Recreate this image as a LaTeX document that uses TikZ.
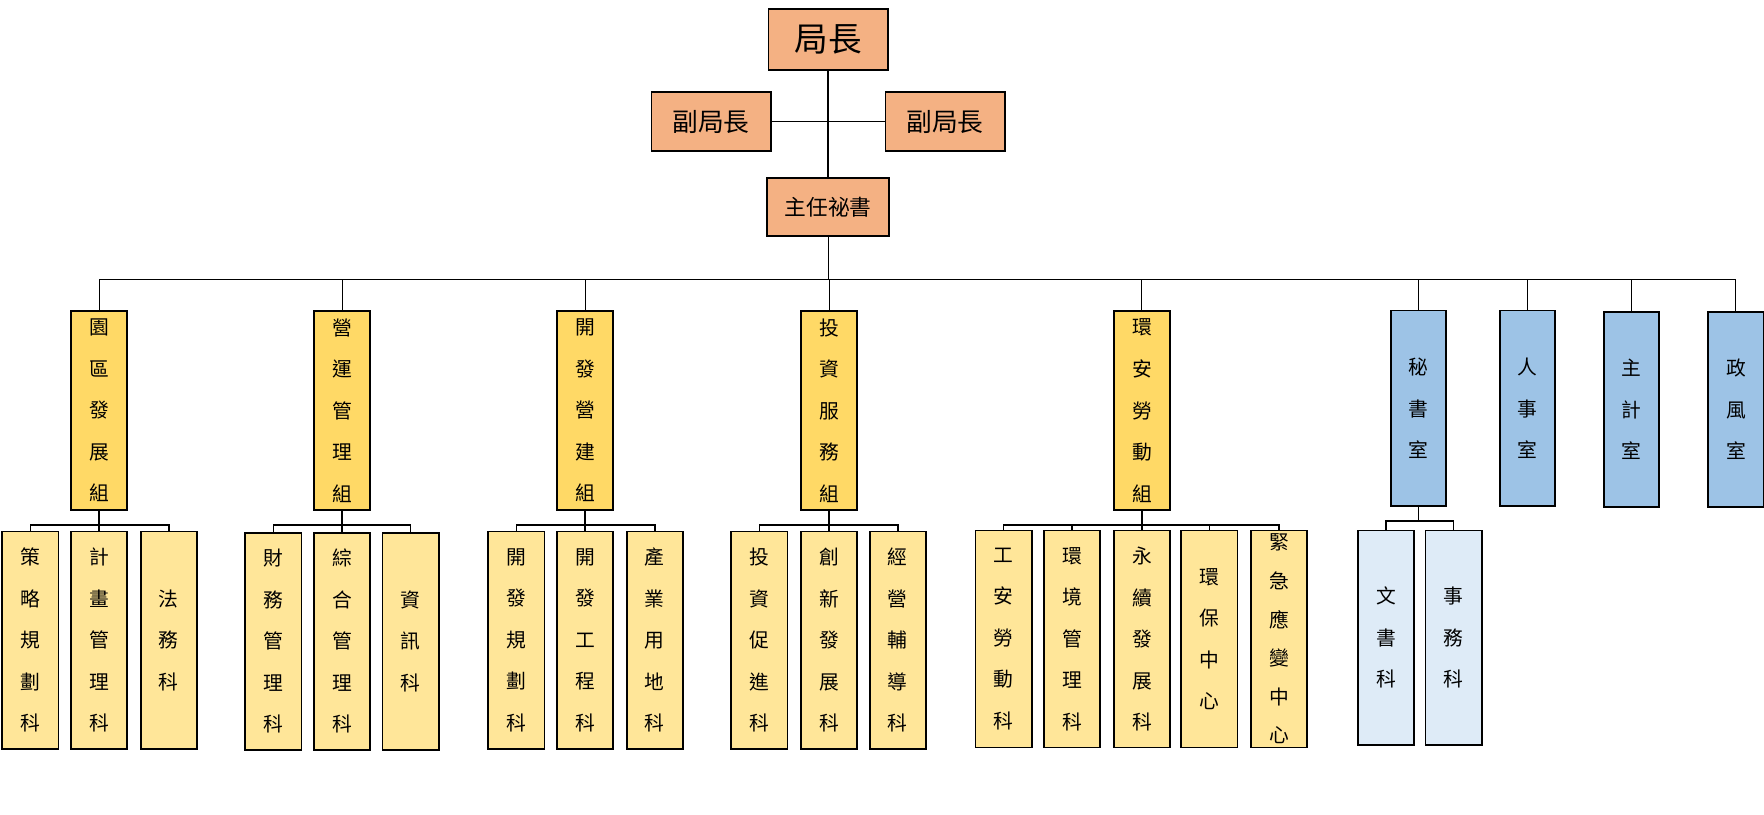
\documentclass[tikz,border=0pt]{standalone}
\usepackage{fontspec}
\newfontfamily\cjk{Noto Sans CJK TC}
\definecolor{head}{HTML}{F4B183}
\definecolor{grp}{HTML}{FFD966}
\definecolor{sub}{HTML}{FFE699}
\definecolor{off}{HTML}{9DC3E6}
\definecolor{offsub}{HTML}{DEEBF7}
\begin{document}
\begin{tikzpicture}
[x=0.02cm,y=-0.02cm,
 every node/.style={draw=black,line width=0.9pt,inner sep=0mm,outer sep=0mm,align=center},
 boss/.style={fill=head,minimum width=2.12cm,minimum height=1.08cm,font=\cjk\fontsize{17}{20}\selectfont},
 depty/.style={fill=head,minimum width=2.12cm,minimum height=1.06cm,font=\cjk\fontsize{13}{16}\selectfont},
 chief/.style={fill=head,minimum width=2.18cm,minimum height=1.04cm,font=\cjk\fontsize{11}{14}\selectfont},
 grpbox/.style={fill=grp,minimum width=1cm,minimum height=3.54cm,font=\cjk\fontsize{10}{21}\selectfont},
 offbox/.style={fill=off,minimum width=0.98cm,minimum height=3.48cm,font=\cjk\fontsize{10}{21}\selectfont},
 subbox/.style={fill=sub,minimum width=1cm,minimum height=3.86cm,font=\cjk\fontsize{10}{21}\selectfont},
 offsubbox/.style={fill=offsub,minimum width=1cm,minimum height=3.82cm,font=\cjk\fontsize{10}{21}\selectfont},
 link/.style={line width=0.5pt},
 tick/.style={line width=0.8pt}]
\useasboundingbox (0,0) rectangle (1568,724);
% top
\node[boss]  (bos) at (736,35)  {局長};
\node[depty] (dl)  at (632,108) {副局長};
\node[depty] (dr)  at (840,108) {副局長};
\node[chief] (sec) at (736,184) {主任祕書};
\draw[tick] (bos) -- (sec);
\draw[tick] (dl) -- (dr);
% groups
\node[grpbox] (g1) at (88,365)   {園\\區\\發\\展\\組};
\node[grpbox] (g2) at (304,365)  {營\\運\\管\\理\\組};
\node[grpbox] (g3) at (520,365)  {開\\發\\營\\建\\組};
\node[grpbox] (g4) at (737,365)  {投\\資\\服\\務\\組};
\node[grpbox] (g5) at (1015,365) {環\\安\\勞\\動\\組};
\node[offbox] (o1) at (1261,363) {秘\\書\\室};
\node[offbox] (o2) at (1358,363) {人\\事\\室};
\node[offbox] (o3) at (1450,364) {主\\計\\室};
\node[offbox] (o4) at (1543,364) {政\\風\\室};
\coordinate (bus) at (736,248);
\draw[link] (sec) -- (bus);
\draw[link] (g1.north |- bus) -- (o4.north |- bus);
\foreach \g in {g1,g2,g3,g4,g5,o1,o2,o3,o4}
  \draw[link] (\g.north) -- (\g.north |- bus);
% sections
\node[subbox] (s11) at (27,569)  {策\\略\\規\\劃\\科};
\node[subbox] (s12) at (88,569)  {計\\畫\\管\\理\\科};
\node[subbox] (s13) at (150,569) {法\\務\\科};
\node[subbox] (s21) at (243,570) {財\\務\\管\\理\\科};
\node[subbox] (s22) at (304,570) {綜\\合\\管\\理\\科};
\node[subbox] (s23) at (365,570) {資\\訊\\科};
\node[subbox] (s31) at (459,569) {開\\發\\規\\劃\\科};
\node[subbox] (s32) at (520,569) {開\\發\\工\\程\\科};
\node[subbox] (s33) at (582,569) {產\\業\\用\\地\\科};
\node[subbox] (s41) at (675,569) {投\\資\\促\\進\\科};
\node[subbox] (s42) at (737,569) {創\\新\\發\\展\\科};
\node[subbox] (s43) at (798,569) {經\\營\\輔\\導\\科};
\node[subbox] (s51) at (892,568)  {工\\安\\勞\\動\\科};
\node[subbox] (s52) at (953,568)  {環\\境\\管\\理\\科};
\node[subbox] (s53) at (1015,568) {永\\續\\發\\展\\科};
\node[subbox] (s54) at (1075,568) {環\\保\\中\\心};
\node[subbox,font=\cjk\fontsize{10}{19.5}\selectfont] (s55) at (1137,568) {緊\\急\\應\\變\\中\\心};
\node[offsubbox] (s61) at (1232,567) {文\\書\\科};
\node[offsubbox] (s62) at (1292,567) {事\\務\\科};
\foreach \g/\a/\b/\m in {g1/s11/s13/s12,g2/s21/s23/s22,g3/s31/s33/s32,g4/s41/s43/s42,g5/s51/s55/{s52,s53,s54},o1/s61/s62/{}}
{
  \coordinate (\g b) at ([yshift=-0.26cm]\g.south);
  \draw[tick] (\g.south) -- (\g b);
  \draw[tick] (\a.north) |- (\g b) -| (\b.north);
  \foreach \s in \m
    \draw[tick] (\s.north) -- (\s.north |- \g b);
}
\end{tikzpicture}
\end{document}
